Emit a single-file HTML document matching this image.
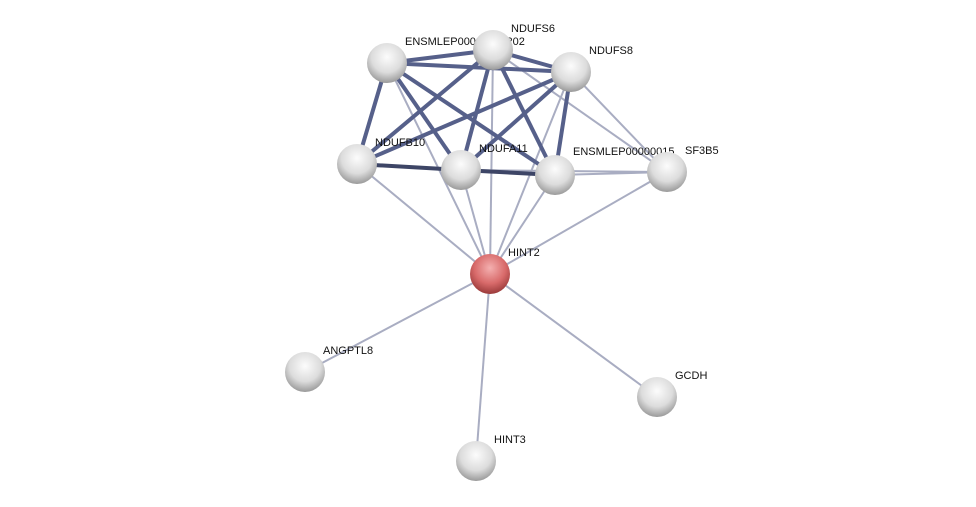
<!DOCTYPE html>
<html><head><meta charset="utf-8"><style>body{margin:0;background:#fff}svg{display:block}text{font-family:"Liberation Sans",sans-serif;font-size:11px;fill:#111}</style></head>
<body>
<svg width="976" height="507" viewBox="0 0 976 507">
<defs>
<radialGradient id="g" cx="50%" cy="35%" r="65%"><stop offset="0" stop-color="#fcfcfc"/><stop offset="0.6" stop-color="#dcdcdc"/><stop offset="1" stop-color="#9a9a9a"/></radialGradient>
<radialGradient id="r" cx="50%" cy="35%" r="65%"><stop offset="0" stop-color="#f4b0b0"/><stop offset="0.6" stop-color="#d86a6a"/><stop offset="1" stop-color="#9a3a3a"/></radialGradient>
</defs>
<g stroke="#a9adc2" stroke-width="2">
<line x1="387" y1="63" x2="490" y2="274"/><line x1="493" y1="50" x2="490" y2="274"/><line x1="571" y1="72" x2="490" y2="274"/>
<line x1="357" y1="164" x2="490" y2="274"/><line x1="461" y1="170" x2="490" y2="274"/><line x1="555" y1="175" x2="490" y2="274"/>
<line x1="667" y1="172" x2="490" y2="274"/><line x1="493" y1="50" x2="667" y2="172"/><line x1="571" y1="72" x2="667" y2="172"/>
<line x1="555" y1="175" x2="667" y2="172"/><line x1="461" y1="170" x2="667" y2="172"/>
<line x1="490" y1="274" x2="305" y2="372"/><line x1="490" y1="274" x2="657" y2="397"/><line x1="490" y1="274" x2="476" y2="461"/>
</g>
<g stroke="#56608a" stroke-width="4">
<line x1="387" y1="63" x2="493" y2="50"/><line x1="387" y1="63" x2="571" y2="72"/><line x1="387" y1="63" x2="357" y2="164"/>
<line x1="387" y1="63" x2="461" y2="170"/><line x1="387" y1="63" x2="555" y2="175"/><line x1="493" y1="50" x2="571" y2="72"/>
<line x1="493" y1="50" x2="357" y2="164"/><line x1="493" y1="50" x2="461" y2="170"/><line x1="493" y1="50" x2="555" y2="175"/>
<line x1="571" y1="72" x2="357" y2="164"/><line x1="571" y1="72" x2="461" y2="170"/><line x1="571" y1="72" x2="555" y2="175"/>
</g>
<g stroke="#3d4566" stroke-width="4">
<line x1="357" y1="164" x2="461" y2="170"/><line x1="461" y1="170" x2="555" y2="175"/>
</g>
<text x="405" y="45">ENSMLEP00000020202</text>
<text x="511" y="32">NDUFS6</text>
<text x="589" y="54">NDUFS8</text>
<text x="375" y="146">NDUFB10</text>
<text x="479" y="152">NDUFA11</text>
<text x="573" y="155">ENSMLEP00000015</text>
<text x="685" y="154">SF3B5</text>
<text x="508" y="256">HINT2</text>
<text x="323" y="354">ANGPTL8</text>
<text x="675" y="379">GCDH</text>
<text x="494" y="443">HINT3</text>
<g fill="url(#g)">
<circle cx="387" cy="63" r="20"/><circle cx="493" cy="50" r="20"/><circle cx="571" cy="72" r="20"/>
<circle cx="357" cy="164" r="20"/><circle cx="461" cy="170" r="20"/><circle cx="555" cy="175" r="20"/>
<circle cx="667" cy="172" r="20"/><circle cx="305" cy="372" r="20"/><circle cx="657" cy="397" r="20"/><circle cx="476" cy="461" r="20"/>
</g>
<circle cx="490" cy="274" r="20" fill="url(#r)"/>
</svg>
</body></html>
